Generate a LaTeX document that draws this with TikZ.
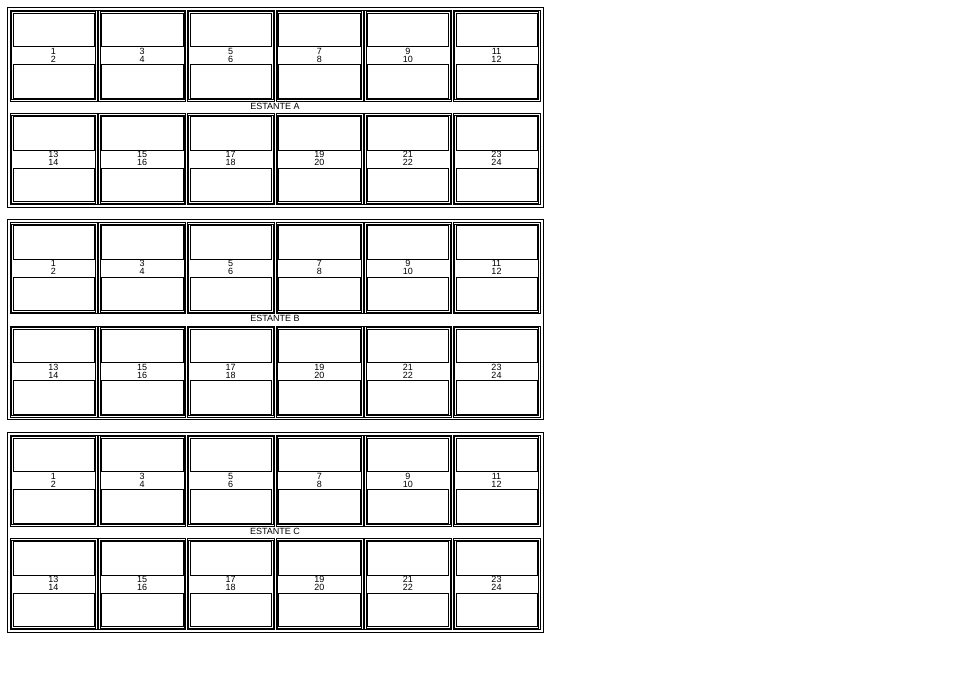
\documentclass[tikz,border=0pt]{standalone}
\usepackage{fontspec}
\setmainfont{Liberation Sans}

\begin{document}
\begin{tikzpicture}[
    x=1pt, y=-1pt,
    frame/.style={draw, line width=0.6pt},
    num/.style={anchor=base, inner sep=0pt, font=\fontsize{9}{9}\selectfont},
    shelftitle/.style={anchor=base, inner sep=0pt, font=\fontsize{9}{9}\selectfont},
]
\useasboundingbox (0,0) rectangle (962,673);

\foreach \shelf/\ty in {A/7, B/219.5, C/432} {
    % Shelf frame and title
    \draw[frame] (7,\ty) rectangle (543,\ty+200);
    \node[shelftitle] (estante-\shelf) at (275,\ty+102.3) {ESTANTE \shelf};
    % Two rows of six cells
    \foreach \dy/\first in {3/1, 106.5/13} {
        \foreach \col in {0,...,5} {
            \pgfmathsetmacro{\cx}{10+88.6*\col}
            \pgfmathsetmacro{\cy}{\ty+\dy}
            \pgfmathtruncatemacro{\odd}{\first+2*\col}
            \pgfmathtruncatemacro{\even}{\odd+1}
            % double border
            \draw[frame] (\cx,\cy) rectangle +(87,91);
            \draw[frame] (\cx+1.4,\cy+1.4) rectangle +(84.2,88.2);
            % upper and lower box
            \draw[frame] (\cx+2.8,\cy+2.8) rectangle +(81.4,33.5);
            \draw[frame] (\cx+2.8,\cy+54.7) rectangle +(81.4,33.5);
            % position numbers
            \node[num] (n-\shelf-\odd) at (\cx+43.5,\cy+44.3) {\odd};
            \node[num] (n-\shelf-\even) at (\cx+43.5,\cy+52.3) {\even};
        }
    }
}

\end{tikzpicture}
\end{document}
